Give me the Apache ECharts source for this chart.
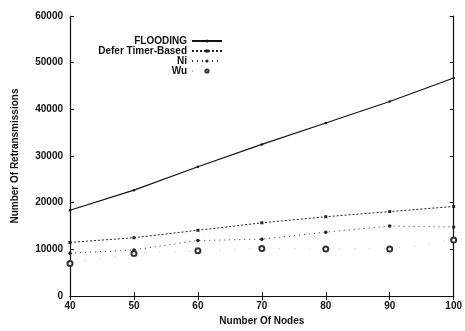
<!DOCTYPE html>
<html>
<head>
<meta charset="utf-8">
<script src="https://cdn.jsdelivr.net/npm/echarts@6/dist/echarts.min.js"></script>
<style>
  html, body { margin: 0; padding: 0; background: #fff; }
  #chart { width: 465px; height: 331px; }
</style>
</head>
<body>
<div id="chart"></div>
<script>
// values
const nodes = [40, 50, 60, 70, 80, 90, 100];
const flooding = [18400, 22700, 27700, 32500, 37100, 41700, 46700];
const deferTimer = [11500, 12500, 14100, 15700, 17000, 18100, 19200];
const ni = [9200, 9900, 11900, 12200, 13700, 15000, 14800];
const wu = [7000, 9100, 9700, 10200, 10100, 10100, 12000];
const yTicks = [0, 10000, 20000, 30000, 40000, 50000, 60000];

const FONT = "'Liberation Sans', Arial, sans-serif";
const INK = "#111";

const pairs = (ys) => nodes.map((x, i) => [x, ys[i]]);

const chart = echarts.init(document.getElementById("chart"), null, { renderer: "canvas" });

const tickAxis = {
  axisLine: { show: true, lineStyle: { color: INK, width: 1.2 } },
  axisTick: { show: true, inside: true, length: 4, lineStyle: { color: INK } },
  splitLine: { show: false },
};

chart.setOption({
  animation: false,
  backgroundColor: "#fff",
  grid: { left: 70, right: 9, top: 16, bottom: 31 },
  legend: {
    orient: "vertical",
    right: 237,
    top: 31,
    align: "right",
    itemGap: 0,
    itemWidth: 30,
    itemHeight: 4,
    textStyle: { fontFamily: FONT, fontWeight: "bold", fontSize: 10, color: INK, lineHeight: 10 },
    data: ["FLOODING", "Defer Timer-Based", "Ni", "Wu"],
  },
  xAxis: [
    {
      ...tickAxis,
      type: "value",
      min: 40, max: 100, interval: 10,
      name: "Number Of Nodes",
      nameLocation: "middle",
      nameGap: 17,
      nameTextStyle: { fontFamily: FONT, fontWeight: "bold", fontSize: 10, color: INK },
      axisLabel: { fontFamily: FONT, fontWeight: "bold", fontSize: 10, color: INK, margin: 5 },
    },
    {
      ...tickAxis,
      type: "value", position: "top",
      min: 40, max: 100, interval: 10,
      axisLabel: { show: false },
    },
  ],
  yAxis: [
    {
      ...tickAxis,
      type: "value",
      min: yTicks[0], max: yTicks[yTicks.length - 1], interval: 10000,
      name: "Number Of Retransmissions",
      nameLocation: "middle",
      nameGap: 50,
      nameTextStyle: { fontFamily: FONT, fontWeight: "bold", fontSize: 10, color: INK },
      axisLabel: { fontFamily: FONT, fontWeight: "bold", fontSize: 10, color: INK, margin: 7, formatter: (v) => String(v) },
    },
    {
      ...tickAxis,
      type: "value", position: "right",
      min: 0, max: 60000, interval: 10000,
      axisLabel: { show: false },
    },
  ],
  series: [
    {
      name: "FLOODING", type: "line", data: pairs(flooding),
      symbol: "circle", symbolSize: 2.5,
      lineStyle: { color: INK, width: 1.1 }, itemStyle: { color: INK },
    },
    {
      name: "Defer Timer-Based", type: "line", data: pairs(deferTimer),
      symbol: "rect", symbolSize: 3,
      lineStyle: { color: "#222", width: 1, type: [2, 2] }, itemStyle: { color: "#222" },
    },
    {
      name: "Ni", type: "line", data: pairs(ni),
      symbol: "circle", symbolSize: 3.5,
      lineStyle: { color: "#333", width: 1, type: [1, 4] }, itemStyle: { color: "#222" },
    },
    {
      name: "Wu", type: "line", data: pairs(wu),
      symbol: "emptyCircle", symbolSize: 5,
      lineStyle: { color: "#777", width: 0.8, type: [1, 14], opacity: 0.5 },
      itemStyle: { color: "#333", borderWidth: 0.7 },
    },
  ],
});
</script>
</body>
</html>
